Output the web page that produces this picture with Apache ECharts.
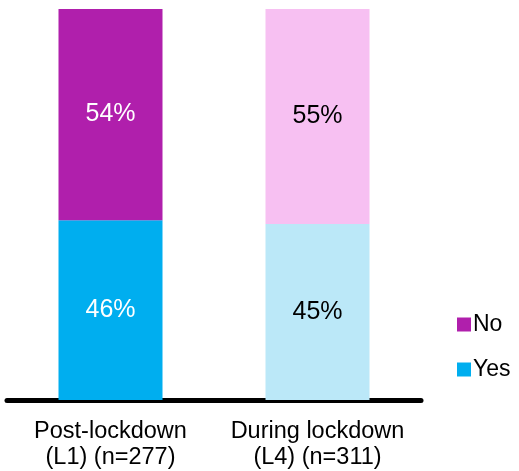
<!DOCTYPE html>
<html><head><meta charset="utf-8">
<script src="https://cdn.jsdelivr.net/npm/echarts@6/dist/echarts.min.js"></script>
<style>html,body{margin:0;padding:0;background:#fff}#c{width:519px;height:471px}</style>
</head><body><div id="c"></div>
<script>
var categories = ['Post-lockdown\n(L1) (n=277)', 'During lockdown\n(L4) (n=311)'];
var yesValues = [46, 45];
var noValues = [54, 55];
var yesColors = ['#00aeef', '#bbe8f8'];
var noColors = ['#b01fac', '#f7c0f2'];
var labelColors = ['#ffffff', '#000000'];

var chart = echarts.init(document.getElementById('c'), null, {renderer: 'canvas'});
function mk(vals, cols) {
  return vals.map(function (v, i) {
    return {value: v, itemStyle: {color: cols[i]}, label: {color: labelColors[i]}};
  });
}
chart.setOption({
  animation: false,
  grid: {left: 7, right: 98, top: 9, bottom: 67},
  legend: {
    orient: 'vertical', left: 452, top: 308, itemWidth: 14, itemHeight: 14, itemGap: 22,
    icon: 'rect',
    textStyle: {fontFamily: 'Liberation Sans, Arial', fontSize: 23, color: '#000', padding: [0,0,0,-3]},
    data: [{name: 'No', itemStyle: {color: noColors[0]}}, {name: 'Yes', itemStyle: {color: yesColors[0]}}]
  },
  xAxis: {
    type: 'category', data: categories,
    axisLine: {lineStyle: {color: '#000', width: 5}},
    axisTick: {show: false},
    axisLabel: {fontFamily: 'Liberation Sans, Arial', fontSize: 23.5, color: '#000', lineHeight: 26, margin: 19, interval: 0}
  },
  yAxis: {type: 'value', min: 0, max: 100, show: false, splitLine: {show: false}},
  series: [
    {name: 'Yes', type: 'bar', stack: 's', barWidth: 104, data: mk(yesValues, yesColors),
     label: {show: true, position: 'inside', formatter: '{c}%', fontFamily: 'Liberation Sans, Arial', fontSize: 25}},
    {name: 'No', type: 'bar', stack: 's', barWidth: 104, data: mk(noValues, noColors),
     label: {show: true, position: 'inside', formatter: '{c}%', fontFamily: 'Liberation Sans, Arial', fontSize: 25}}
  ]
});
</script></body></html>
